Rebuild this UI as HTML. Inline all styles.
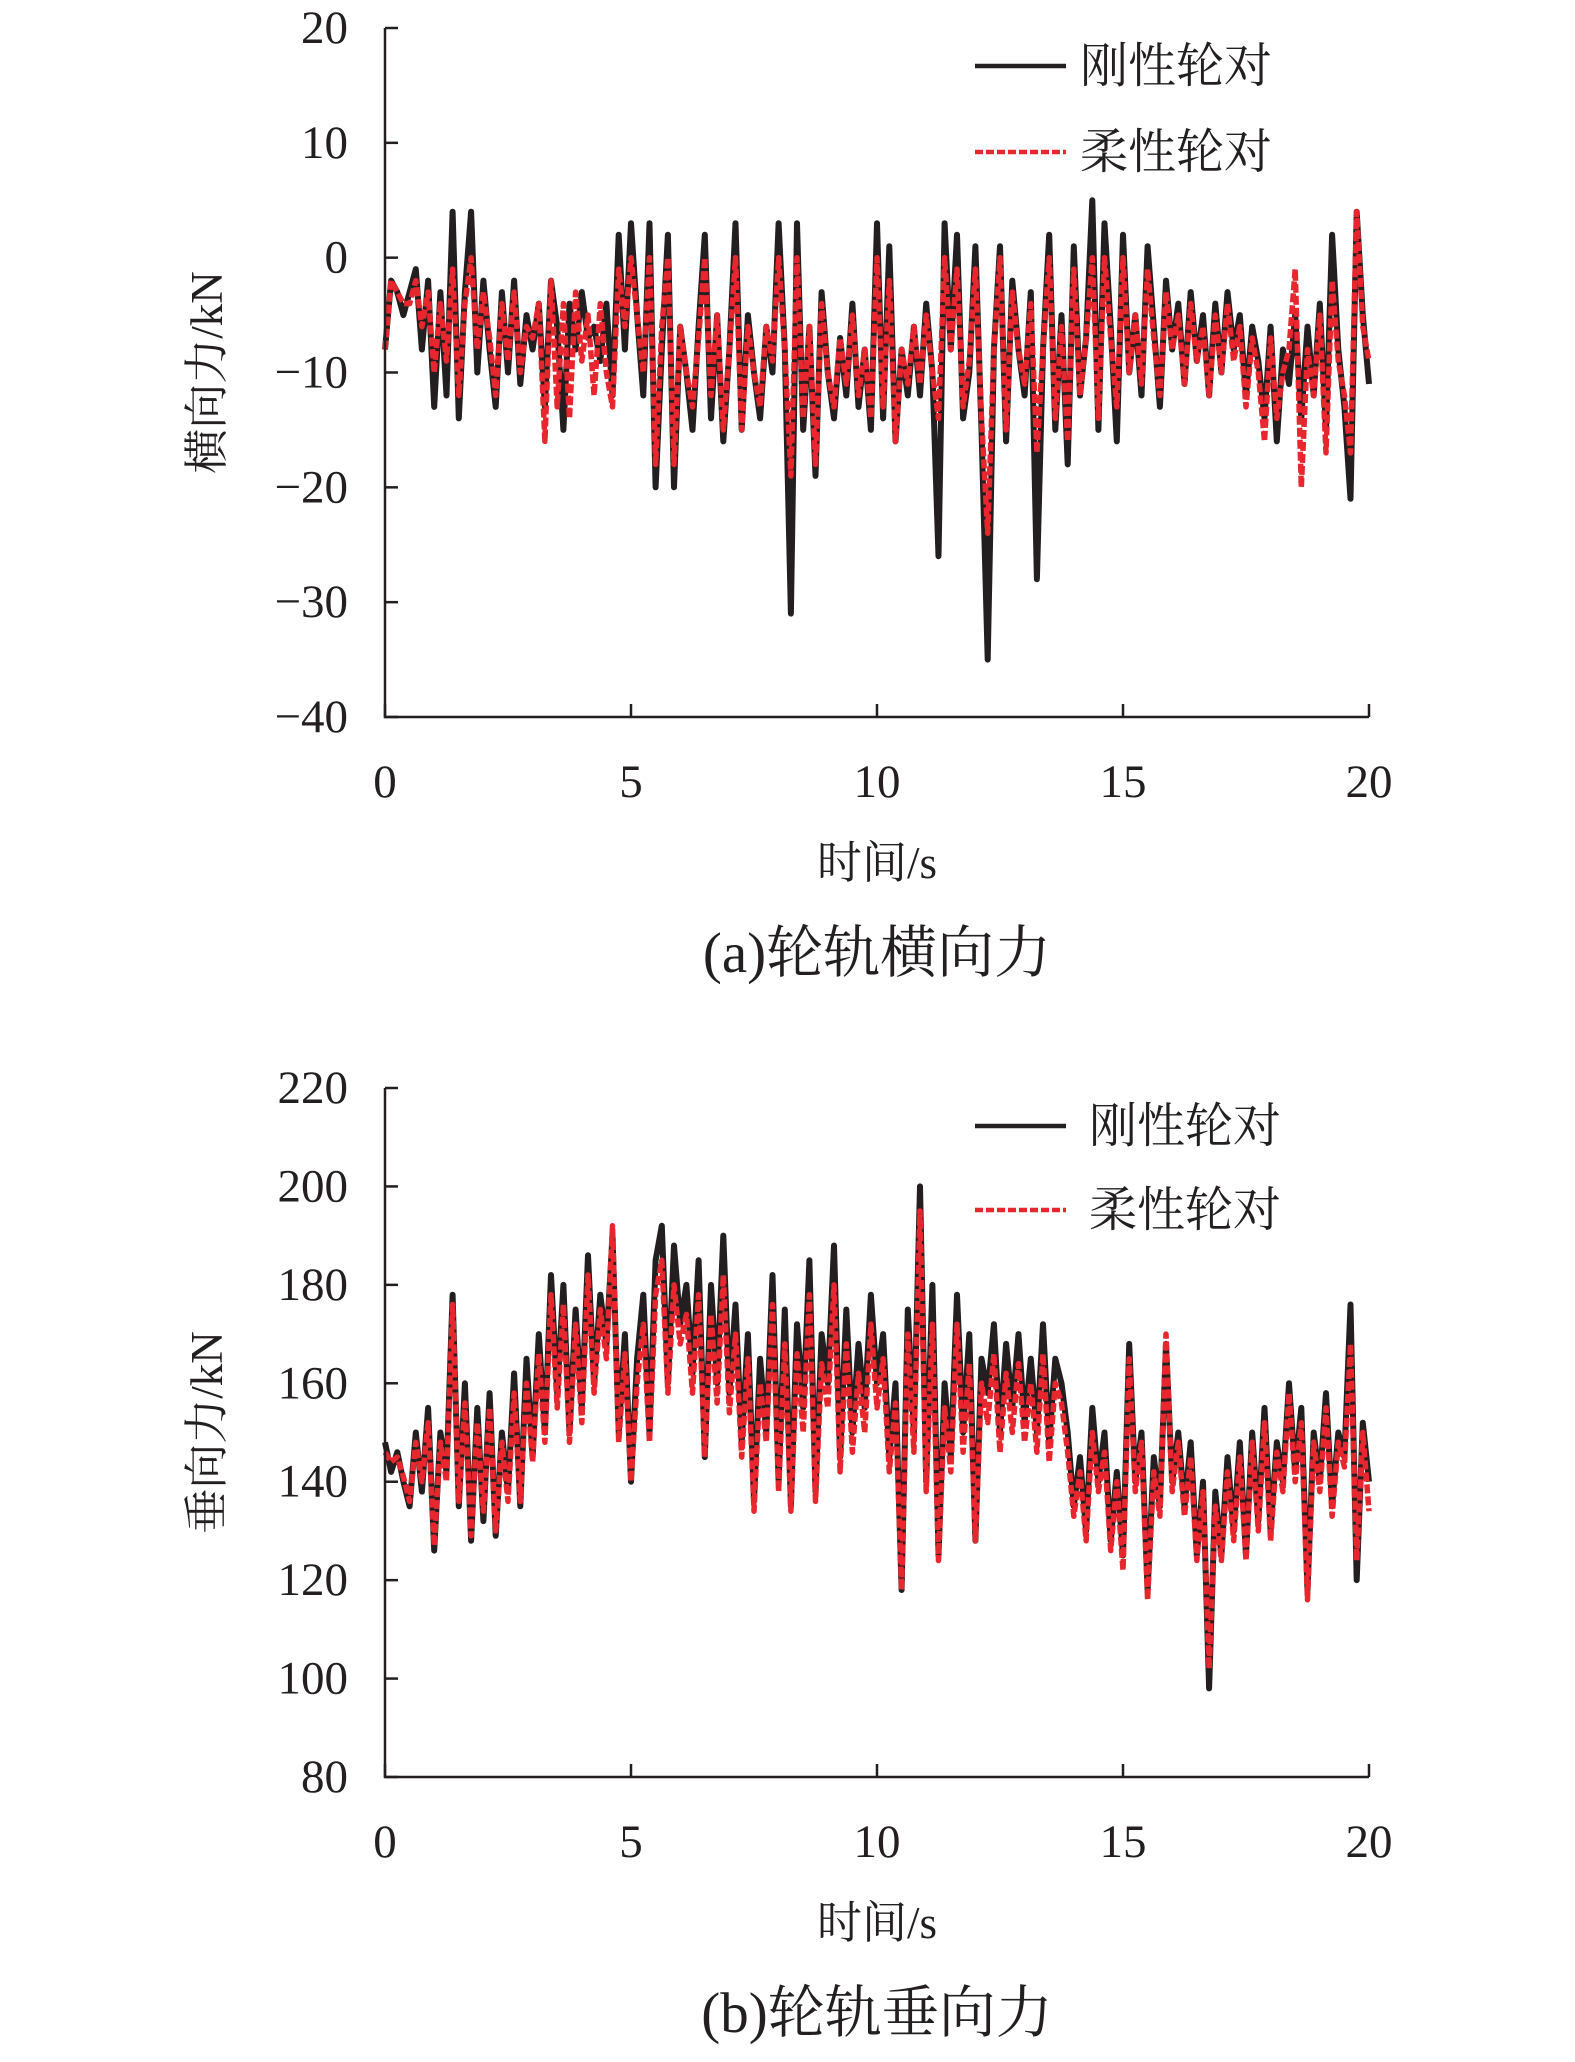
<!DOCTYPE html>
<html><head><meta charset="utf-8"><style>
html,body{margin:0;padding:0;background:#fff;}
svg{display:block;font-family:"Liberation Serif","Noto Serif CJK SC",serif;}
</style></head><body>
<svg id="fig" width="1575" height="2062" viewBox="0 0 1575 2062" xmlns="http://www.w3.org/2000/svg"></svg>
<script>
const timeStep = 0.125;
const lateralTicks = [20,10,0,-10,-20,-30,-40];
const verticalTicks = [220,200,180,160,140,120,100,80];
const timeTicks = [0,5,10,15,20];
const lateralRigid = [-8,-2,-3,-5,-3,-1,-8,-2,-13,-3,-12,4,-14,-3,4,-10,-2,-8,-13,-3,-10,-2,-11,-5,-8,-4,-13,-2,-6,-15,-4,-8,-3,-7,-6,-9,-4,-12,2,-8,3,-5,-12,3,-20,-8,2,-20,-6,-10,-15,-6,2,-14,-5,-16,-8,3,-15,-5,-10,-14,-6,-10,3,-8,-31,3,-15,-6,-19,-3,-10,-14,-7,-12,-4,-13,-8,-15,3,-14,1,-16,-8,-12,-6,-12,-4,-10,-26,3,-8,2,-14,-10,1,-15,-35,-8,1,-16,-2,-8,-12,-3,-28,-8,2,-15,-5,-18,1,-12,-7,5,-15,3,-6,-16,2,-10,-5,-12,1,-6,-13,-2,-8,-4,-11,-3,-9,-5,-12,-4,-10,-3,-8,-5,-12,-6,-9,-14,-6,-16,-8,-11,-5,-14,-6,-12,-4,-15,2,-8,-13,-21,4,-5,-11];
const lateralFlexible = [-8,-2,-3,-4,-4,-2,-6,-3,-10,-4,-9,-1,-12,-4,0,-8,-3,-7,-12,-4,-9,-3,-10,-6,-7,-4,-16,-2,-13,-4,-14,-3,-9,-5,-12,-4,-10,-13,-1,-6,0,-5,-10,0,-18,-6,0,-18,-6,-10,-13,-7,0,-12,-5,-15,-8,0,-15,-6,-10,-13,-6,-9,0,-8,-19,0,-14,-6,-18,-4,-10,-13,-7,-11,-5,-12,-8,-14,0,-13,-2,-16,-8,-11,-6,-11,-5,-10,-14,0,-8,-1,-13,-9,-1,-14,-24,-8,0,-15,-3,-8,-11,-4,-17,-8,0,-14,-6,-16,-1,-12,-7,0,-14,0,-7,-13,0,-10,-5,-11,-1,-7,-12,-3,-8,-5,-11,-4,-9,-6,-12,-5,-10,-4,-9,-6,-13,-7,-10,-16,-7,-14,-10,-8,-1,-20,-8,-12,-5,-17,-2,-9,-12,-17,4,-6,-9];
const verticalRigid = [148,142,146,140,135,150,138,155,126,150,142,178,135,160,128,155,132,158,129,150,138,162,135,165,145,170,150,182,158,180,150,175,155,186,160,178,168,190,150,170,140,165,178,150,185,192,160,188,172,180,162,185,145,180,160,190,158,176,148,170,136,165,150,182,140,175,135,172,155,185,138,170,160,188,145,175,150,168,155,178,160,170,145,160,118,175,150,200,140,180,125,160,145,178,150,170,128,165,158,172,150,168,155,170,152,165,150,172,148,165,160,150,135,145,130,155,140,150,128,142,125,168,140,150,118,145,135,168,140,150,135,148,125,140,98,138,125,145,130,148,125,150,132,155,130,148,140,160,142,155,118,150,140,158,135,150,145,176,120,152,140];
const verticalFlexible = [146,144,145,141,136,148,140,152,127,148,140,176,136,156,129,152,134,155,130,148,136,158,136,160,144,166,148,178,155,176,148,172,152,182,158,175,165,192,148,166,140,160,172,148,178,185,158,180,168,174,158,178,145,174,156,182,154,170,145,165,134,160,148,176,138,168,134,166,150,178,136,164,155,180,142,168,146,162,150,172,155,165,142,156,118,170,146,195,138,172,124,155,142,172,146,164,128,160,152,166,146,162,150,164,148,160,146,166,144,160,156,146,133,142,128,150,138,146,126,140,122,165,138,148,116,142,133,170,138,148,133,145,124,138,102,135,124,142,128,145,124,148,130,152,128,146,138,158,140,152,116,148,138,155,133,148,143,168,124,150,134];

const NS='http://www.w3.org/2000/svg';
const svg=document.getElementById('fig');
function mk(tag,attrs,parent){const e=document.createElementNS(NS,tag);for(const k in attrs)e.setAttribute(k,attrs[k]);(parent||svg).appendChild(e);return e;}

function chart(cfg){
  const g=mk('g',{});
  
  
  const x0=385,x1=1369,y0=cfg.top,y1=cfg.bottom;
  const ymax=cfg.yTicks[0],ymin=cfg.yTicks[cfg.yTicks.length-1];
  const X=t=>x0+(t-0)/(20-0)*(x1-x0);
  const Y=v=>y1-(v-ymin)/(ymax-ymin)*(y1-y0);
  const drawSeries=(arr,style,name)=>{
    const d=arr.map((v,i)=>(i?'L':'M')+X(i*timeStep).toFixed(1)+','+Y(v).toFixed(1)).join('');
    const p=mk('path',Object.assign({d:d,fill:'none','stroke-linejoin':'round'},style),g);
    
    
  };
  drawSeries(cfg.rigid,{stroke:'#231f20','stroke-width':6},'rigid-wheelset-line');
  drawSeries(cfg.flex,{stroke:'#e8262d','stroke-width':5.5,'stroke-dasharray':'9,3'},'flexible-wheelset-line');
  const ax=mk('path',{d:`M${x0},${y0}V${y1}H${x1}`,stroke:'#231f20','stroke-width':2.5,fill:'none'},g);
  
  
  cfg.yTicks.forEach(v=>{
    mk('line',{x1:x0,x2:x0+13,y1:Y(v),y2:Y(v),stroke:'#231f20','stroke-width':2.5},g);
    const t=mk('text',{x:x0-37,y:Y(v)+15,'text-anchor':'end','font-size':47,fill:'#231f20'},g);
    t.textContent=String(v).replace('-','\u2212');
    
    
  });
  timeTicks.forEach(v=>{
    mk('line',{x1:X(v),x2:X(v),y1:y1,y2:y1-13,stroke:'#231f20','stroke-width':2.5},g);
    const t=mk('text',{x:X(v),y:y1+80,'text-anchor':'middle','font-size':47,fill:'#231f20'},g);
    t.textContent=v;
    
    
  });
  const xt=mk('text',{x:877,y:y1+161,'text-anchor':'middle','font-size':45,fill:'#231f20'},g);
  xt.textContent='时间/s';
  
  
  const yc=(y0+y1)/2;
  const yt=mk('text',{x:0,y:0,'text-anchor':'middle','font-size':45,fill:'#231f20',transform:`translate(222,${yc}) rotate(-90)`},g);
  yt.textContent=cfg.yTitle;
  
  
  const cap=mk('text',{x:877,y:y1+255,'text-anchor':'middle','font-size':57,fill:'#231f20'},g);
  cap.textContent=cfg.caption;
  
  
  const lg=mk('g',{},g);
  
  
  mk('line',{x1:975,x2:1066,y1:cfg.leg1,y2:cfg.leg1,stroke:'#231f20','stroke-width':4.5},lg);
  mk('line',{x1:975,x2:1066,y1:cfg.leg2,y2:cfg.leg2,stroke:'#e8262d','stroke-width':4.5,'stroke-dasharray':'8,3'},lg);
  const l1=mk('text',{x:cfg.legX,y:cfg.leg1+16,'font-size':48,fill:'#231f20'},lg);
  l1.textContent='刚性轮对';
  
  
  const l2=mk('text',{x:cfg.legX,y:cfg.leg2+16,'font-size':48,fill:'#231f20'},lg);
  l2.textContent='柔性轮对';
  
  
}
chart({name:'lateral-force-chart',top:28,bottom:717,yTicks:lateralTicks,rigid:lateralRigid,flex:lateralFlexible,yTitle:'横向力/kN',caption:'(a)轮轨横向力',leg1:66,leg2:152,legX:1080});
chart({name:'vertical-force-chart',top:1088,bottom:1777,yTicks:verticalTicks,rigid:verticalRigid,flex:verticalFlexible,yTitle:'垂向力/kN',caption:'(b)轮轨垂向力',leg1:1126,leg2:1210,legX:1089});
</script>
</body></html>
